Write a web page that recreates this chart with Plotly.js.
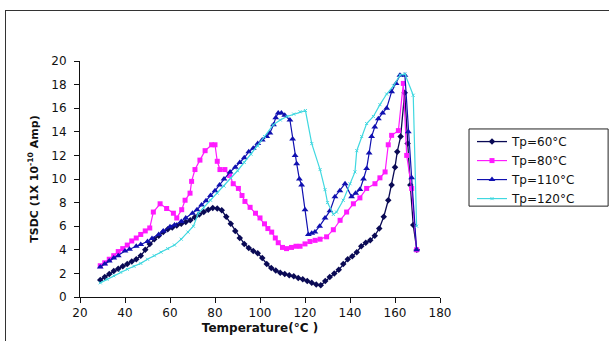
<!DOCTYPE html>
<html>
<head>
<meta charset="utf-8">
<script src="https://cdn.plot.ly/plotly-3.0.1.min.js"></script>
<style>
html,body{margin:0;padding:0;background:#fff;}
#wrap{position:relative;width:609px;height:341px;overflow:hidden;}
#chart{position:absolute;left:0;top:0;width:609px;height:341px;}
#frame{position:absolute;left:5px;top:10px;width:620px;height:340px;border:1px solid #333;pointer-events:none;box-sizing:border-box;}
</style>
</head>
<body>
<div id="wrap"><div id="chart"></div><div id="frame"></div></div>
<script>
// Tp = 60 °C
const t60 = [29,31,33,35,37,39,41,43,45,47,49,51,53,55,57,59,61,63,65,67,69,71,73,75,77,79,81,83,85,87,89,91,93,95,97,99,101,103,105,107,109,111,113,115,117,119,121,123,125,127,129,131,133,135,137,139,141,143,145,147,149,151,153,155,157,158.5,160,161,162.5,164.3,165.6,166.8,168.1,169.7];
const v60 = [1.45,1.7,1.95,2.2,2.4,2.6,2.8,3.0,3.2,3.5,4.0,4.5,4.9,5.2,5.5,5.75,5.9,6.05,6.2,6.35,6.5,6.75,7.0,7.2,7.4,7.55,7.5,7.35,6.8,6.2,5.6,5.0,4.5,4.15,3.9,3.7,3.3,2.8,2.45,2.25,2.05,1.95,1.85,1.75,1.6,1.5,1.35,1.2,1.05,1.0,1.35,1.7,2.0,2.3,2.8,3.2,3.45,3.8,4.3,4.6,4.8,5.2,5.8,6.8,8.2,9.5,11.0,12.3,13.6,17.3,13.0,9.5,6.1,4.0];
// Tp = 80 °C
const t80 = [29,31,33,35,37,39,41,43,45,47,49,51,52.6,55.6,58.5,61.5,63,65.2,66.7,68.9,69.6,71.1,73.3,75.6,78.5,80,81,82.2,84.4,86.5,88.1,90.4,92,93.3,95.6,98,100,102,103.5,105.2,106.8,108.1,110,111.8,114,116,117.8,120,122.2,124.5,126.7,129.6,132.6,135.6,138.5,141.5,144.4,147.4,151.1,153.3,155.6,157,158.5,161.5,163.7,165.2,167.4,169.6];
const v80 = [2.65,2.9,3.2,3.5,3.85,4.1,4.4,4.75,5.0,5.3,5.6,5.85,7.2,7.9,7.5,7.1,6.7,7.4,8.2,8.8,9.8,10.8,11.6,12.4,12.9,12.9,11.5,10.8,10.8,10.3,9.6,9.2,8.6,8.1,7.6,7.1,6.7,6.2,5.8,5.5,5.0,4.6,4.2,4.1,4.2,4.3,4.3,4.5,4.7,4.8,4.9,5.1,5.7,6.5,7.2,7.9,8.4,9.2,9.6,10.1,10.6,12.9,13.7,14.1,18.1,12.0,9.2,4.0];
// Tp = 110 °C
const t110 = [29,31,33,35,37,40,42,45,47,50,52,55,57,60,62,65,67,70,72,74,76,78,80,82,84,86.7,89,91,93,95,97,99,101,103,104.4,106,107,108.1,109.5,111,113.3,114.5,115.6,116.3,117.5,118.5,120,121.5,123,124.4,126.5,128.9,131.1,133.3,135.5,137.8,140.7,142.5,144.4,146,147.4,148.5,149.6,151,152.6,154.5,156.3,158.5,160.5,162.2,164.4,165.9,167.4,169.6];
const v110 = [2.55,2.8,3.05,3.3,3.5,3.9,4.05,4.3,4.45,4.7,4.95,5.3,5.6,5.95,6.1,6.4,6.7,7.1,7.4,7.8,8.15,8.6,9.0,9.5,10.0,10.6,11.0,11.4,11.8,12.3,12.6,13.0,13.3,13.6,13.9,14.6,15.2,15.6,15.6,15.4,15.0,13.4,12.0,11.3,10.0,9.5,7.4,5.3,5.4,5.5,6.0,6.7,7.3,8.5,9.0,9.6,8.5,8.8,9.1,10.0,10.9,12.2,13.6,14.4,15.1,15.6,16.0,17.4,18.1,18.8,18.8,14.0,10.1,4.0];
// Tp = 120 °C
const t120 = [29,32,35,38,41,44,47,50,53,56,59,62,65,68,70.4,72.6,75,78,81,84,87,90,93,96,99,102,105.9,109,112,115,117.8,120.2,123,126.7,128.9,130,132.6,134,137,140,142.2,143,145.2,147.4,150.4,153.3,156.3,159.3,162.2,164.4,168.1,169.6];
const v120 = [1.2,1.5,1.8,2.1,2.35,2.6,2.85,3.2,3.5,3.8,4.1,4.4,4.9,5.5,6.0,7.1,7.6,8.2,8.8,9.4,10.1,10.7,11.4,12.1,12.8,13.6,14.6,15.0,15.3,15.5,15.7,15.8,13.0,10.8,9.1,8.0,7.0,7.2,8.2,9.6,10.6,12.4,13.6,14.7,15.3,16.3,17.2,17.9,18.8,18.9,17.1,6.0];

const names = ['Tp=60°C','Tp=80°C','Tp=110°C','Tp=120°C'];
const xTicks = [20,40,60,80,100,120,140,160,180];
const yTicks = [0,2,4,6,8,10,12,14,16,18,20];

const font = 'DejaVu Sans, Verdana, sans-serif';
const traces = [
  {x:t60,y:v60,name:names[0],mode:'lines+markers',line:{color:'#0a0a55',width:1.3},marker:{symbol:'diamond',size:5,color:'#0a0a55'}},
  {x:t80,y:v80,name:names[1],mode:'lines+markers',line:{color:'#ff1aff',width:1.2},marker:{symbol:'square',size:5,color:'#ff1aff'}},
  {x:t110,y:v110,name:names[2],mode:'lines+markers',line:{color:'#1010b0',width:1.2},marker:{symbol:'triangle-up',size:6,color:'#1010b0'}},
  {x:t120,y:v120,name:names[3],mode:'lines+markers',line:{color:'#40d8e0',width:1.2},marker:{symbol:'x-thin',size:3,color:'#40d8e0',line:{width:1,color:'#40d8e0'}}}
];
traces.forEach(t=>{t.type='scatter';});

const layout = {
  width:609,height:341,
  margin:{l:80,r:169,t:61,b:44,pad:0},
  paper_bgcolor:'rgba(0,0,0,0)',plot_bgcolor:'rgba(0,0,0,0)',
  showlegend:true,
  font:{family:font,size:12,color:'#111'},
  xaxis:{range:[20,180],tickvals:xTicks,ticktext:xTicks.map(String),showgrid:false,zeroline:false,
    showline:true,linecolor:'#111',linewidth:1,ticks:'outside',ticklen:5,tickcolor:'#111',
    tickfont:{family:font,size:12,color:'#111'},
    title:{text:'<b>Temperature(°C )</b>',font:{family:font,size:12,color:'#111'},standoff:4}},
  yaxis:{range:[0,20],tickvals:yTicks,ticktext:yTicks.map(String),showgrid:false,zeroline:false,
    showline:true,linecolor:'#111',linewidth:1,ticks:'outside',ticklen:5,tickcolor:'#111',
    ticklabelstandoff:5,
    tickfont:{family:font,size:12,color:'#111'},
    title:{text:'<b>TSDC (1X 10<sup>-10</sup> Amp)</b>',font:{family:font,size:11,color:'#111'},standoff:10}},
  legend:{x:1.0889,y:0.72,xanchor:'left',yanchor:'top',borderwidth:0,bgcolor:'rgba(0,0,0,0)',
    font:{family:font,size:12,color:'#111'},itemwidth:30},
  shapes:[{type:'rect',xref:'paper',yref:'paper',x0:1.0806,x1:1.467,y0:0.385,y1:0.712,
    line:{color:'#222',width:1},fillcolor:'rgba(0,0,0,0)'}]
};
Plotly.newPlot('chart',traces,layout,{displayModeBar:false,staticPlot:true});
</script>
</body>
</html>
